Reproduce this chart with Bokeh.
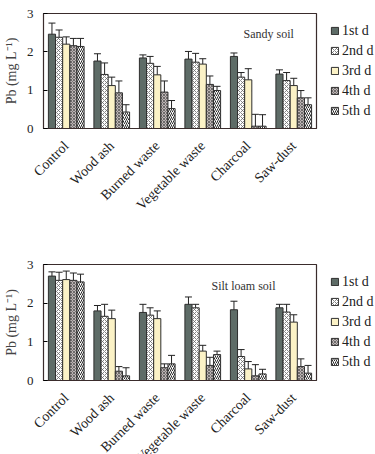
import math
from bokeh.plotting import figure
from bokeh.layouts import column, row
from bokeh.models import (ColumnDataSource, FactorRange, Range1d, Whisker, TeeHead,
                          Legend, LegendItem, Label, FixedTicker)
from bokeh.transform import dodge
from bokeh.embed import file_html
from bokeh.resources import INLINE

categories = ["Control", "Wood ash", "Burned waste", "Vegetable waste", "Charcoal", "Saw-dust"]
days = ["1st d", "2nd d", "3rd d", "4th d", "5th d"]
y_ticks = [0, 1, 2, 3]

# Sandy soil: means and standard errors per day
sandy_1st = [2.46, 1.76, 1.84, 1.81, 1.88, 1.42]
sandy_2nd = [2.38, 1.41, 1.70, 1.73, 1.34, 1.25]
sandy_3rd = [2.20, 1.12, 1.40, 1.68, 1.27, 1.12]
sandy_4th = [2.16, 0.93, 0.95, 1.15, 0.06, 0.80]
sandy_5th = [2.14, 0.43, 0.52, 0.99, 0.06, 0.62]
sandy_se_1st = [0.29, 0.19, 0.08, 0.20, 0.09, 0.11]
sandy_se_2nd = [0.19, 0.30, 0.18, 0.23, 0.12, 0.21]
sandy_se_3rd = [0.19, 0.22, 0.22, 0.14, 0.29, 0.19]
sandy_se_4th = [0.19, 0.31, 0.29, 0.22, 0.31, 0.19]
sandy_se_5th = [0.21, 0.19, 0.21, 0.11, 0.30, 0.18]

# Silt loam soil
silt_1st = [2.70, 1.80, 1.76, 1.97, 1.83, 1.88]
silt_2nd = [2.59, 1.66, 1.69, 1.88, 0.62, 1.77]
silt_3rd = [2.61, 1.60, 1.60, 0.76, 0.30, 1.51]
silt_4th = [2.59, 0.24, 0.33, 0.39, 0.12, 0.36]
silt_5th = [2.55, 0.12, 0.43, 0.67, 0.17, 0.19]
silt_se_1st = [0.11, 0.14, 0.21, 0.19, 0.22, 0.09]
silt_se_2nd = [0.21, 0.31, 0.19, 0.09, 0.18, 0.20]
silt_se_3rd = [0.22, 0.22, 0.20, 0.15, 0.19, 0.19]
silt_se_4th = [0.19, 0.12, 0.10, 0.21, 0.29, 0.20]
silt_se_5th = [0.20, 0.21, 0.22, 0.09, 0.12, 0.20]

FONT = "Liberation Serif"
EDGE = "#2e2e2e"
styles = [
    dict(fill_color="#5e6c67"),
    dict(fill_color="#ffffff", hatch_pattern="diagonal_cross", hatch_color="#6a6a6a", hatch_scale=4, hatch_weight=0.8),
    dict(fill_color="#fbf2c6"),
    dict(fill_color="#bdb5b5", hatch_pattern="diagonal_cross", hatch_color="#4a4a4a", hatch_scale=3, hatch_weight=0.7),
    dict(fill_color="#ffffff", hatch_pattern="right_diagonal_line", hatch_color="#2a2a2a", hatch_scale=4, hatch_weight=1.0),
]
BW = 0.157
offsets = [-2 * BW, -BW, 0, BW, 2 * BW]


def panel(means, ses, title, title_x, border_top, height, border_bottom):
    p = figure(x_range=FactorRange(*categories, range_padding=0), y_range=Range1d(0, 3),
               width=320, height=height, output_backend="svg", toolbar_location=None,
               min_border_left=42, min_border_right=4, min_border_top=border_top,
               min_border_bottom=border_bottom)
    p.xgrid.visible = False
    p.ygrid.visible = False
    p.outline_line_color = "#3a2c2c"
    p.outline_line_width = 1.2
    for i in range(5):
        m = means[i]
        s = ses[i]
        src = ColumnDataSource(dict(cat=categories, mean=m,
                                    lo=[a - b for a, b in zip(m, s)],
                                    hi=[a + b for a, b in zip(m, s)]))
        x = dodge("cat", offsets[i], range=p.x_range)
        p.vbar(x=x, top="mean", width=BW, source=src, line_color=EDGE, line_width=1, **styles[i])
        w = Whisker(base=x, lower="lo", upper="hi", source=src,
                    line_color="#222222", line_width=1,
                    upper_head=TeeHead(size=7, line_color="#222222", line_width=1),
                    lower_head=TeeHead(size=7, line_color="#222222", line_width=1))
        p.add_layout(w)
    p.add_layout(Label(x=title_x, y=95, x_units="screen", y_units="screen", text=title,
                       text_font=FONT, text_font_size="12px", text_color="#333",
                       text_baseline="middle"))
    p.yaxis.ticker = FixedTicker(ticks=y_ticks)
    p.yaxis.minor_tick_line_color = None
    p.yaxis.major_tick_in = 4
    p.yaxis.major_tick_out = 0
    p.yaxis.major_label_standoff = 10
    p.yaxis.axis_label = "Pb (mg L\u207b\u00b9)"
    p.yaxis.axis_label_text_font = FONT
    p.yaxis.axis_label_text_font_style = "normal"
    p.yaxis.axis_label_text_font_size = "14px"
    p.yaxis.axis_label_standoff = 5
    p.xaxis.major_tick_line_color = None
    p.xaxis.major_label_orientation = math.pi / 4
    p.xaxis.major_label_standoff = 9
    p.xaxis.major_label_text_font_size = "14px"
    p.yaxis.major_label_text_font_size = "13px"
    for ax in (p.xaxis, p.yaxis):
        ax.major_label_text_font = FONT
        ax.major_label_text_color = "#222"
        ax.axis_line_color = "#3a2c2c"

    # legend in a narrow companion figure whose frame lines up with the chart frame
    lf = figure(width=55, height=height, output_backend="svg", toolbar_location=None,
                x_axis_location=None, y_axis_location=None, min_border=0,
                min_border_left=1, min_border_right=0,
                min_border_top=border_top, min_border_bottom=border_bottom,
                x_range=Range1d(0, 1), y_range=Range1d(0, 1))
    lf.outline_line_color = None
    lf.xgrid.visible = False
    lf.ygrid.visible = False
    items = []
    for i in range(5):
        r = lf.vbar(x=[0.5], top=[0], width=0.5, line_color=EDGE, line_width=1, **styles[i])
        r.visible = False
        items.append(LegendItem(label=days[i], renderers=[r]))
    leg = Legend(items=items, location="top_left", glyph_width=9, glyph_height=9,
                 label_height=17, spacing=3, label_standoff=3, padding=0, margin=9,
                 border_line_alpha=0, background_fill_alpha=0, inactive_fill_alpha=0,
                 label_text_font=FONT, label_text_font_size="14px", label_text_color="#222")
    lf.add_layout(leg)
    return row(p, lf)


r1 = panel([sandy_1st, sandy_2nd, sandy_3rd, sandy_4th, sandy_5th],
           [sandy_se_1st, sandy_se_2nd, sandy_se_3rd, sandy_se_4th, sandy_se_5th],
           "Sandy soil", 200, 13, 227, 99)
# the rotated category labels need ~93 px below the frame; the reference crops them,
# so this row is taller than the window and the overflow is hidden
r2 = panel([silt_1st, silt_2nd, silt_3rd, silt_4th, silt_5th],
           [silt_se_1st, silt_se_2nd, silt_se_3rd, silt_se_4th, silt_se_5th],
           "Silt loam soil", 168, 37, 246, 74)

layout = column(r1, r2)
try:
    from bokeh.models import GlobalInlineStyleSheet
    layout.stylesheets = [GlobalInlineStyleSheet(css="html, body { overflow: hidden; margin: 0; }")]
except Exception:
    pass
open("out.html", "w").write(file_html(layout, INLINE))
